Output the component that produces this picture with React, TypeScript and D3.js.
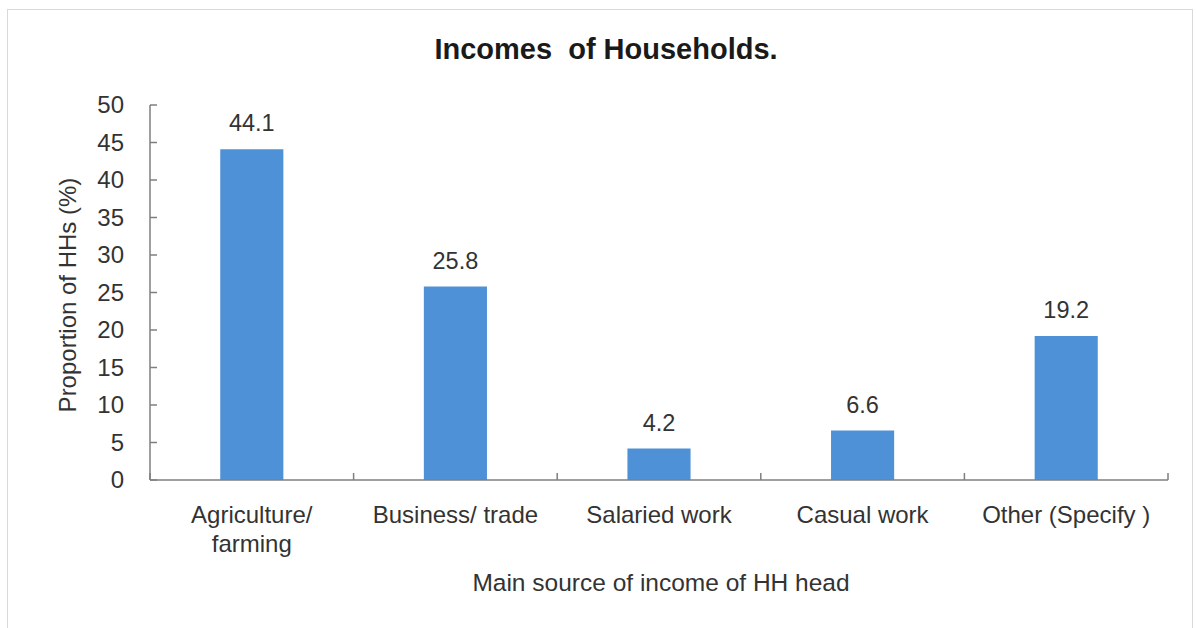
import React from "react";
import * as d3 from "d3";

const categories: string[][] = [
  ["Agriculture/", "farming"],
  ["Business/ trade"],
  ["Salaried work"],
  ["Casual work"],
  ["Other (Specify )"],
];
const values: number[] = [44.1, 25.8, 4.2, 6.6, 19.2];
const yTicks: number[] = [0, 5, 10, 15, 20, 25, 30, 35, 40, 45, 50];
const title = "Incomes  of Households.";
const yTitle = "Proportion of HHs (%)";
const xTitle = "Main source of income of HH head";

const W = 1196;
const H = 628;
const left = 150;
const right = 1168;
const top = 105;
const bottom = 480;
const FONT = "'Liberation Sans', Arial, sans-serif";
const BAR = "#4F91D6";
const AXIS = "#7f7f7f";
const TXT = "#333333";

export default function App() {
  const idx = values.map((_, i) => String(i));
  const x = d3.scaleBand<string>().domain(idx).range([left, right]).paddingInner(0).paddingOuter(0);
  const y = d3.scaleLinear().domain([0, 50]).range([bottom, top]);
  const bw = x.bandwidth();
  const barW = bw * 0.31;
  const boundaries = d3.range(values.length + 1).map((i) => left + i * bw);

  return (
    <svg width={W} height={H} style={{ position: "absolute", left: 0, top: 0, background: "#fff" }}>
      <rect x={7.5} y={9.5} width={1185} height={640} fill="#fff" stroke="#d9d9d9" strokeWidth={1} />
      <text x={606} y={59} textAnchor="middle" fontFamily={FONT} fontWeight="bold" fontSize={29} fill="#1a1a1a" style={{ whiteSpace: "pre" }}>
        {title}
      </text>
      {/* bars */}
      {values.map((v, i) => {
        const cx = (x(String(i)) as number) + bw / 2;
        return (
          <g key={i}>
            <rect x={cx - barW / 2} y={y(v)} width={barW} height={y(0) - y(v)} fill={BAR} />
            <text x={cx} y={y(v) - 18} textAnchor="middle" fontFamily={FONT} fontSize={23.5} fill={TXT}>
              {d3.format(".1f")(v)}
            </text>
            {categories[i].map((line, j) => (
              <text key={j} x={cx} y={523 + j * 29} textAnchor="middle" fontFamily={FONT} fontSize={24} fill={TXT}>
                {line}
              </text>
            ))}
          </g>
        );
      })}
      {/* y axis */}
      <line x1={left} x2={left} y1={top} y2={bottom} stroke={AXIS} strokeWidth={1.5} />
      {yTicks.map((t) => (
        <g key={t}>
          <line x1={left} x2={left + 7} y1={y(t)} y2={y(t)} stroke={AXIS} strokeWidth={1.5} />
          <text x={124} y={y(t) + 8} textAnchor="end" fontFamily={FONT} fontSize={24} fill={TXT}>
            {t}
          </text>
        </g>
      ))}
      {/* x axis */}
      <line x1={left} x2={right} y1={bottom} y2={bottom} stroke={AXIS} strokeWidth={1.5} />
      {boundaries.map((b, i) => (
        <line key={i} x1={b} x2={b} y1={bottom} y2={bottom - 7} stroke={AXIS} strokeWidth={1.5} />
      ))}
      <text
        transform={`translate(76,295) rotate(-90)`}
        textAnchor="middle"
        fontFamily={FONT}
        fontSize={24}
        fill={TXT}
      >
        {yTitle}
      </text>
      <text x={661} y={591} textAnchor="middle" fontFamily={FONT} fontSize={24.5} fill={TXT}>
        {xTitle}
      </text>
    </svg>
  );
}
